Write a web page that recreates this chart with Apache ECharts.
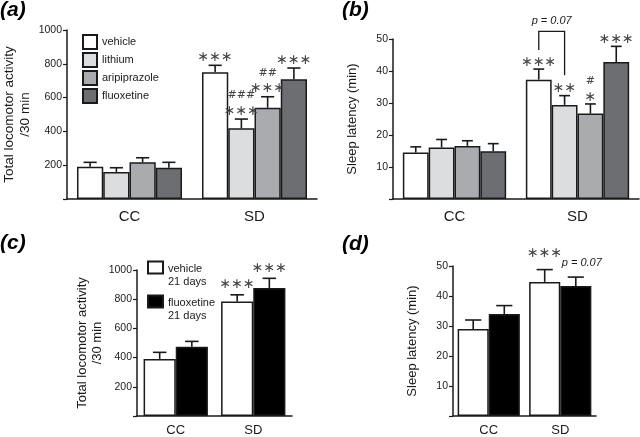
<!DOCTYPE html>
<html><head><meta charset="utf-8">
<script src="https://cdn.jsdelivr.net/npm/echarts@6/dist/echarts.min.js"></script>
<style>html,body{margin:0;padding:0;background:#fff}#c{width:640px;height:437px}</style>
</head><body><div id="c"></div>
<script>
// ---------- data ----------
const categories = ['CC', 'SD'];

// panel (a) total locomotor activity /30 min
const aNames = ['vehicle', 'lithium', 'aripiprazole', 'fluoxetine'];
const aMeans = [[191, 750], [160, 418], [217, 540], [185, 708]];
const aErrs  = [[26, 41], [25, 55], [27, 65], [32, 67]];
const aMarks = [['', '***'], ['', '###\n***'], ['', '##\n***'], ['', '***']];

// panel (b) sleep latency (min)
const bMeans = [[14.5, 37.3], [16.1, 29.4], [16.6, 26.7], [14.9, 42.8]];
const bErrs  = [[1.8, 3.3], [2.5, 2.9], [1.6, 3.0], [2.4, 4.9]];
const bMarks = [['', '***'], ['', '**'], ['', '#\n*'], ['', '***']];
const bBracket = { cat: 1, from: 0, to: 1, leftEnd: 46.6, rightEnd: 38.7, top: 52.4, text: 'p = 0.07' };

// panel (c) total locomotor activity, 21 days
const cNames = ['vehicle\n21 days', 'fluoxetine\n21 days'];
const cMeans = [[391, 785], [474, 876]];
const cErrs  = [[45, 45], [37, 67]];
const cMarks = [['', '***'], ['', '***']];

// panel (d) sleep latency, 21 days
const dMeans = [[29.0, 44.7], [34.0, 43.3]];
const dErrs  = [[3.0, 4.1], [2.8, 3.0]];
const dMarks = [['', '***'], ['', 'p = 0.07']];

// ---------- styles ----------
const FONT = '"Liberation Sans", Arial, sans-serif';
const INK = '#1a1a1a';
const grayFills = ['#ffffff', '#dcdddf', '#a9abae', '#6d6e71'];
const bwFills = ['#ffffff', '#000000'];

const panels = [
  { grid: { left: 67, top: 30, width: 250, height: 169 }, max: 1000, interval: 200,
    name: 'Total locomotor activity\n/30 min', nameSize: 13.5, nameGap: 34, gapCat: 0.16,
    means: aMeans, errs: aErrs, marks: aMarks, fills: grayFills, names: aNames,
    catSize: 15, catMargin: 10, cap: 0.5, markGap: 0, pGap: 9 },
  { grid: { left: 393, top: 39, width: 246, height: 160 }, max: 50, interval: 10,
    name: 'Sleep latency (min)', nameSize: 13, nameGap: 33, gapCat: 0.16,
    means: bMeans, errs: bErrs, marks: bMarks, fills: grayFills, names: aNames.map(n => n + ' (b)'),
    catSize: 15, catMargin: 10, cap: 0.42, markGap: -1, pGap: 9 },
  { grid: { left: 137, top: 270, width: 155, height: 148 }, max: 1000, interval: 200,
    name: 'Total locomotor activity\n/30 min', nameSize: 13, nameGap: 32, gapCat: 0.17,
    means: cMeans, errs: cErrs, marks: cMarks, fills: bwFills, names: cNames,
    catSize: 13, catMargin: 8, cap: 0.42, markGap: 2, pGap: 9 },
  { grid: { left: 453, top: 266, width: 143, height: 151 }, max: 50, interval: 10,
    name: 'Sleep latency (min)', nameSize: 13, nameGap: 33, gapCat: 0.13,
    means: dMeans, errs: dErrs, marks: dMarks, fills: bwFills, names: ['vehicle (d)', 'fluoxetine (d)'],
    catSize: 13, catMargin: 8, cap: 0.52, markGap: 8, pGap: 9 }
];

const markRich = {
  s: { font: '14px "DejaVu Sans"', lineHeight: 16, fill: '#444' },
  h: { font: '11px "DejaVu Sans"', lineHeight: 16, fill: '#444' }
};
function markText(txt) {
  return txt.split('\n').map(line => line.charAt(0) === '#'
    ? '{h|' + line + '}'
    : '{s|' + line.replace(/\*/g, '\u2217') + '}').join('\n');
}

const grids = [], xAxes = [], yAxes = [], series = [];

panels.forEach((p, gi) => {
  grids.push(Object.assign({ containLabel: false }, p.grid));
  xAxes.push({
    type: 'category', gridIndex: gi, data: categories,
    axisLine: { lineStyle: { color: INK, width: 1.5 } },
    axisTick: { show: false },
    axisLabel: { color: INK, fontFamily: FONT, fontSize: p.catSize, margin: p.catMargin }
  });
  yAxes.push({
    type: 'value', gridIndex: gi, min: 0, max: p.max, interval: p.interval,
    name: p.name, nameLocation: 'middle', nameRotate: 90, nameGap: p.nameGap,
    nameTextStyle: { color: INK, fontFamily: FONT, fontSize: p.nameSize, lineHeight: p.nameSize + 2, align: 'center' },
    axisLine: { show: true, lineStyle: { color: INK, width: 1.5 } },
    axisTick: { show: true, length: 4, lineStyle: { color: INK, width: 1.2 } },
    splitLine: { show: false },
    axisLabel: { color: INK, fontFamily: FONT, fontSize: 10.5, margin: 5,
      formatter: v => (v === 0 ? '' : String(v)) }
  });
  const n = p.means.length;
  p.means.forEach((vals, si) => {
    series.push({
      type: 'bar', name: p.names[si], xAxisIndex: gi, yAxisIndex: gi,
      data: vals, barGap: '0%', barCategoryGap: (p.gapCat * 100) + '%',
      itemStyle: { color: p.fills[si], borderColor: INK, borderWidth: 1.5 },
      emphasis: { disabled: true }, animation: false, z: 2
    });
  });
  p.means.forEach((vals, si) => {
    const errs = p.errs[si], marks = p.marks[si];
    series.push({
      type: 'custom', xAxisIndex: gi, yAxisIndex: gi, silent: true, animation: false, z: 5,
      data: vals.map((m, ci) => [ci, m, m + errs[ci]]),
      renderItem: (params, api) => {
        const ci = api.value(0);
        const base = api.coord([ci, api.value(1)]);
        const top = api.coord([ci, api.value(2)]);
        const band = api.size([1, 0])[0];
        const grp = band * (1 - p.gapCat);
        const bw = grp / n;
        const x = base[0] - grp / 2 + bw * (si + 0.5);
        const half = bw * p.cap / 2;
        const children = [
          { type: 'line', shape: { x1: x, y1: base[1], x2: x, y2: top[1] }, style: { stroke: INK, lineWidth: 1.6 } },
          { type: 'line', shape: { x1: x - half, y1: top[1], x2: x + half, y2: top[1] }, style: { stroke: INK, lineWidth: 1.6 } }
        ];
        const txt = marks[ci];
        if (txt) {
          const isP = txt.charAt(0) === 'p';
          children.push({
            type: 'text', x: isP ? x + 6 : x, y: top[1] - (isP ? p.pGap : p.markGap),
            style: isP
              ? { text: txt, fill: INK, font: 'italic 11px ' + FONT, align: 'center', verticalAlign: 'bottom' }
              : { text: markText(txt), rich: markRich, align: 'center', verticalAlign: 'bottom' }
          });
        }
        return { type: 'group', children };
      }
    });
  });
});

// bracket in panel (b)
series.push({
  type: 'custom', xAxisIndex: 1, yAxisIndex: 1, silent: true, animation: false, z: 6,
  data: [[bBracket.cat, bBracket.leftEnd, bBracket.rightEnd, bBracket.top]],
  renderItem: (params, api) => {
    const ci = api.value(0);
    const band = api.size([1, 0])[0];
    const grp = band * (1 - panels[1].gapCat);
    const bw = grp / 4;
    const c0 = api.coord([ci, 0])[0] - grp / 2;
    const xl = c0 + bw * (bBracket.from + 0.5);
    const xr = c0 + bw * (bBracket.to + 0.5);
    const yl = api.coord([ci, api.value(1)])[1];
    const yr = api.coord([ci, api.value(2)])[1];
    const yt = api.coord([ci, api.value(3)])[1];
    return { type: 'group', children: [
      { type: 'polyline', shape: { points: [[xl, yl], [xl, yt], [xr, yt], [xr, yr]] }, style: { stroke: INK, lineWidth: 1.3, fill: null } },
      { type: 'text', x: (xl + xr) / 2, y: yt - 5, style: { text: bBracket.text, fill: INK, font: 'italic 11px ' + FONT, align: 'center', verticalAlign: 'bottom' } }
    ] };
  }
});

const panelLabels = [['(a)', 0, 0], ['(b)', 342, 0], ['(c)', 0, 233], ['(d)', 342, 234]];

const chart = echarts.init(document.getElementById('c'), null, { renderer: 'canvas' });
chart.setOption({
  animation: false,
  grid: grids, xAxis: xAxes, yAxis: yAxes, series,
  legend: [
    { data: aNames, orient: 'vertical', left: 82, top: 34, padding: 0, icon: 'rect',
      itemWidth: 14, itemHeight: 14, itemGap: 2,
      selectedMode: false, textStyle: { color: INK, fontFamily: FONT, fontSize: 11, lineHeight: 14 } },
    { data: cNames, orient: 'vertical', left: 147, top: 249, padding: 0, icon: 'rect',
      itemWidth: 15, itemHeight: 12, itemGap: -4,
      selectedMode: false,
      formatter: name => '{e| }\n{t|' + name.split('\n').join('}\n{t|') + '}',
      textStyle: { color: INK, fontFamily: FONT, fontSize: 11,
        rich: { e: { fontSize: 11, lineHeight: 15 }, t: { fontFamily: FONT, fontSize: 11, lineHeight: 13, color: INK } } } }
  ],
  graphic: panelLabels.map(([t, x, y]) => ({
    type: 'text', left: x, top: y,
    style: { text: t, font: 'italic bold 21px ' + FONT, fill: '#000' }
  }))
});
</script></body></html>
